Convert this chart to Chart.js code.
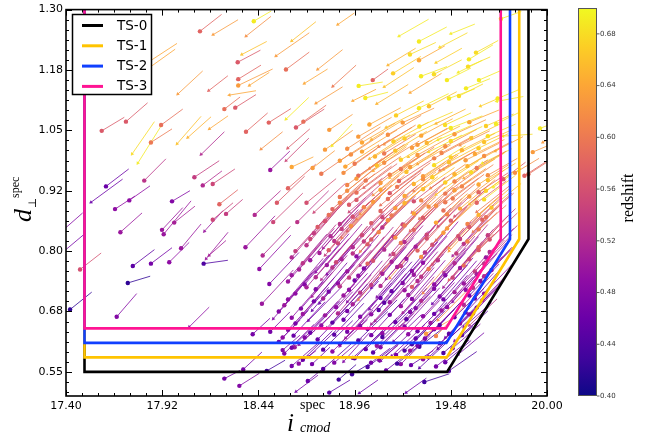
<!DOCTYPE html>
<html>
<head>
<meta charset="utf-8">
<script src="https://cdn.jsdelivr.net/npm/chart.js"></script>
<style>
  html, body { margin: 0; padding: 0; background: #ffffff; }
  #wrap { width: 656px; height: 436px; }
</style>
</head>
<body>
<div id="wrap"><canvas id="chart" width="656" height="436"></canvas></div>
<script>
// ---------------- axes ----------------
const xTickValues = [17.40, 17.92, 18.44, 18.96, 19.48, 20.00];
const xTickLabels = ['17.40', '17.92', '18.44', '18.96', '19.48', '20.00'];
const yTickValues = [0.55, 0.675, 0.80, 0.925, 1.05, 1.175, 1.30];
const yTickLabels = ['0.55', '0.68', '0.80', '0.92', '1.05', '1.18', '1.30'];
const zTickValues = [0.40, 0.44, 0.48, 0.52, 0.56, 0.60, 0.64, 0.68];
const zTickLabels = ['0.40', '0.44', '0.48', '0.52', '0.56', '0.60', '0.64', '0.68'];
const zRange = [0.40, 0.70];

// ---------------- target-selection cuts ----------------
const cutNames = ['TS-0', 'TS-1', 'TS-2', 'TS-3'];
const cutMinI = [17.5, 17.5, 17.5, 17.5];
const cutMaxI = [19.90, 19.85, 19.80, 19.75];
const cutMinD = [0.55, 0.58, 0.61, 0.64];
const cutSlopeZero = [19.86, 19.81, 19.76, 19.71];   // i < zero + 1.6 (d - 0.8)

// ---------------- galaxies: spec position, shift to phot position, redshift ----------------
const specI = [
  18.124,18.195,18.350,18.328,18.535,18.373,18.620,18.415,18.869,18.589,
  18.760,18.331,18.331,18.391,18.688,18.842,19.058,18.982,18.950,19.018,
  18.283,18.315,18.751,18.589,18.496,18.373,18.643,18.683,18.823,18.454,
  18.598,18.838,18.620,18.733,18.504,18.589,17.593,17.724,17.914,17.859,
  17.757,17.788,18.000,18.058,18.175,18.256,18.130,17.823,18.094,18.139,
  18.193,17.616,17.535,17.742,17.973,18.004,18.171,17.800,17.800,17.665,
  17.694,17.368,17.368,17.919,17.928,17.985,18.022,18.148,18.193,18.229,
  18.265,18.157,18.173,17.761,17.859,17.958,18.144,17.734,17.476,17.422,
  17.674,18.066,18.256,18.409,18.504,18.571,18.658,18.730,18.485,18.358,
  18.337,18.707,18.643,18.823,18.874,18.946,18.985,19.049,19.094,18.571,
  18.636,19.265,19.337,19.238,19.184,19.310,19.346,19.962,19.923,19.977,
  19.878,19.733,19.751,19.724,19.762,19.728,19.827,19.764,19.899,18.370,
  18.463,18.445,18.499,18.459,18.520,18.540,18.420,18.600,18.700,18.650,
  18.520,18.780,18.800,18.740,
  18.62,18.79,18.90,19.03,19.13,19.21,19.31,19.40,19.47,
  18.58,18.71,18.84,18.95,19.06,19.16,19.26,19.36,19.44,19.52,
  18.55,18.66,18.76,18.88,18.98,19.08,19.17,19.27,19.34,19.42,19.50,
  18.60,18.72,18.81,18.92,19.03,19.11,19.20,19.30,19.39,19.47,19.55,
  18.62,18.71,18.80,18.90,18.99,19.07,19.15,19.24,19.33,19.41,19.50,19.58,
  18.58,18.67,18.77,18.86,18.95,19.04,19.12,19.21,19.29,19.38,19.46,19.55,19.62,
  18.64,18.73,18.82,18.90,18.99,19.08,19.16,19.25,19.33,19.42,19.50,19.58,19.66,
  18.60,18.69,18.78,18.87,18.96,19.05,19.13,19.22,19.30,19.39,19.47,19.55,19.64,
  18.66,18.75,18.84,18.92,19.01,19.10,19.19,19.27,19.36,19.44,19.53,19.61,19.70,
  18.62,18.72,18.80,18.89,18.97,19.06,19.15,19.24,19.32,19.41,19.49,19.58,19.67,
  18.70,18.79,18.87,18.95,19.03,19.12,19.21,19.29,19.38,19.47,19.55,19.63,
  18.74,18.83,18.92,19.00,19.09,19.17,19.26,19.35,19.44,19.52,19.60,19.68,
  18.80,18.88,18.97,19.05,19.14,19.22,19.31,19.40,19.48,19.57,19.65,
  18.84,18.93,19.01,19.10,19.18,19.27,19.36,19.44,19.53,19.62,19.70,
  18.88,18.97,19.06,19.14,19.23,19.32,19.40,19.49,19.58,19.66,
  18.92,19.01,19.10,19.19,19.28,19.37,19.45,19.54,19.63,19.71,
  18.90,18.98,19.06,19.15,19.24,19.33,19.42,19.50,19.59,19.68,
  18.88,18.96,19.04,19.12,19.21,19.30,19.39,19.47,19.56,19.65,
  18.92,19.00,19.09,19.18,19.27,19.36,19.45,19.54,19.63,19.72,
  18.98,19.05,19.14,19.23,19.32,19.41,19.50,19.59,19.68,
  19.04,19.13,19.22,19.31,19.40,19.48,19.58,19.67,
  18.68,18.85,18.96,19.10,19.19,19.33,19.45,
  18.62,18.79,18.88,19.02,19.10,19.23,19.30,19.41,19.49,
  18.63,18.69,18.85,18.91,19.05,19.11,19.25,19.29,19.40,19.45,19.54,
  18.64,18.78,18.84,18.99,19.05,19.18,19.23,19.37,19.42,19.53,19.58,
  18.55,18.68,18.73,18.87,18.92,19.05,19.09,19.22,19.26,19.39,19.43,19.56,19.60,
  18.60,18.74,18.79,18.92,18.98,19.10,19.15,19.27,19.32,19.44,19.49,19.61,19.65,
  18.70,18.75,18.88,18.93,19.05,19.10,19.23,19.27,19.39,19.44,19.56,19.60,
  18.62,18.75,18.81,18.93,18.98,19.11,19.15,19.28,19.32,19.45,19.49,19.62,19.66,
  18.68,18.81,18.86,18.99,19.03,19.16,19.21,19.33,19.38,19.50,19.55,19.66,
  18.64,18.77,18.82,18.95,18.99,19.12,19.17,19.30,19.34,19.47,19.51,19.63,19.69,
  18.72,18.85,18.89,19.01,19.05,19.18,19.23,19.35,19.40,19.53,19.57,19.69,
  18.76,18.89,18.94,19.06,19.11,19.23,19.28,19.41,19.46,19.58,19.63,
  18.82,18.95,18.99,19.11,19.16,19.28,19.33,19.46,19.50,19.63,19.67,
  18.88,18.93,19.06,19.10,19.23,19.28,19.40,19.45,19.58,19.62,
  18.92,18.97,19.10,19.15,19.28,19.33,19.45,19.50,19.63,19.67,
  18.97,19.02,19.15,19.20,19.33,19.38,19.50,19.55,19.68,
  18.91,19.04,19.08,19.21,19.26,19.39,19.44,19.57,19.62,
  18.94,19.07,19.12,19.25,19.30,19.43,19.48,19.61,19.66,
  19.00,19.12,19.17,19.30,19.35,19.48,19.53,19.66,
  19.308,19.259,19.168,19.319,19.389,19.459,19.573,19.578,19.616,19.632,
  19.308,19.184,19.449,19.562,19.362,19.470,19.524,19.308,
  19.20,19.42,19.12,19.26,19.40,19.52,19.08,19.64,19.14,19.48
];
const specD = [
  1.255,1.248,1.207,1.191,1.204,1.245,1.235,1.276,1.269,1.176,
  1.176,1.156,1.143,1.143,1.147,1.141,1.154,1.142,1.111,1.117,
  1.123,1.097,1.106,1.073,1.066,1.047,1.056,1.068,1.051,1.011,
  1.013,1.018,0.974,0.972,0.968,0.987,1.049,1.068,1.061,1.025,
  1.001,0.982,1.022,1.035,1.053,1.094,1.000,0.946,0.953,0.936,
  0.939,0.934,0.901,0.905,0.903,1.125,1.132,1.180,1.166,0.887,
  0.839,0.838,0.793,0.844,0.835,0.859,0.806,0.841,0.865,0.897,
  0.877,0.784,0.791,0.769,0.774,0.777,0.774,0.734,0.762,0.679,
  0.664,0.643,0.536,0.628,0.633,0.595,0.567,0.566,0.552,0.555,
  0.521,0.531,0.509,0.507,0.534,0.545,0.506,0.569,0.574,0.621,
  0.601,0.564,0.529,0.507,0.585,0.602,0.629,1.054,1.005,1.025,
  0.956,1.116,1.281,1.063,1.038,1.110,0.962,0.949,0.959,0.808,
  0.791,0.763,0.732,0.691,0.860,0.900,0.875,0.930,0.900,0.860,
  0.660,0.960,1.010,0.880,
  .562,.556,.571,.560,.553,.566,.558,.561,.552,
  .588,.581,.592,.579,.590,.583,.594,.580,.589,.586,
  .612,.606,.617,.608,.615,.604,.613,.607,.619,.609,.614,
  .637,.631,.641,.633,.639,.630,.642,.634,.638,.629,.643,
  .662,.656,.667,.658,.664,.655,.668,.659,.665,.657,.663,.669,
  .688,.681,.692,.684,.690,.680,.693,.686,.682,.691,.684,.689,.683,
  .712,.706,.716,.708,.714,.705,.717,.709,.713,.706,.715,.708,.712,
  .737,.731,.741,.733,.739,.730,.742,.734,.738,.731,.740,.733,.738,
  .762,.756,.766,.758,.764,.755,.767,.759,.763,.756,.765,.758,.761,
  .787,.781,.791,.783,.789,.780,.792,.784,.788,.781,.790,.783,.787,
  .812,.806,.816,.808,.814,.805,.817,.809,.813,.806,.815,.808,
  .837,.831,.841,.833,.839,.830,.842,.834,.838,.831,.840,.833,
  .862,.856,.866,.858,.864,.855,.867,.859,.863,.856,.865,
  .887,.881,.891,.883,.889,.880,.892,.884,.888,.881,.890,
  .912,.906,.916,.908,.914,.905,.917,.909,.913,.907,
  .937,.931,.941,.933,.939,.930,.942,.934,.938,.932,
  .962,.956,.966,.958,.964,.955,.967,.959,.963,.957,
  .987,.981,.991,.983,.989,.980,.992,.984,.988,.982,
  1.012,1.006,1.016,1.008,1.014,1.005,1.017,1.009,1.013,1.007,
  1.037,1.031,1.041,1.033,1.039,1.030,1.042,1.034,1.038,
  1.062,1.056,1.066,1.058,1.064,1.055,1.067,1.059,
  .575,.569,.578,.572,.567,.576,.570,
  .600,.596,.603,.597,.601,.594,.604,.598,.599,
  .625,.621,.627,.620,.626,.622,.628,.619,.624,.621,.626,
  .650,.646,.652,.645,.649,.653,.644,.651,.647,.650,.646,
  .675,.670,.677,.671,.676,.669,.678,.672,.674,.670,.677,.673,.671,
  .700,.696,.702,.695,.699,.703,.694,.701,.697,.700,.695,.702,.698,
  .725,.721,.727,.720,.724,.728,.719,.726,.722,.725,.720,.724,
  .750,.746,.752,.745,.749,.753,.744,.751,.747,.750,.745,.752,.748,
  .775,.771,.777,.770,.774,.778,.769,.776,.772,.775,.770,.774,
  .800,.796,.802,.795,.799,.803,.794,.801,.797,.800,.795,.802,.798,
  .825,.821,.827,.820,.824,.828,.819,.826,.822,.825,.820,.824,
  .850,.846,.852,.845,.849,.853,.844,.851,.847,.850,.845,
  .875,.871,.877,.870,.874,.878,.869,.876,.872,.875,.870,
  .900,.896,.902,.895,.899,.903,.894,.901,.897,.900,
  .925,.921,.927,.920,.924,.928,.919,.926,.922,.925,
  .950,.946,.952,.945,.949,.953,.944,.951,.947,
  .975,.971,.977,.970,.974,.978,.969,.976,.972,
  1.000,.996,1.002,.995,.999,1.003,.994,1.001,.997,
  1.025,1.021,1.027,1.020,1.024,1.028,1.019,1.026,
  1.234,1.207,1.168,1.162,1.166,1.154,1.182,1.197,1.211,1.154,
  1.096,1.081,1.061,1.137,1.100,1.116,1.121,1.195,
  1.245,1.222,1.140,1.128,1.190,1.170,1.105,1.100,1.185,1.250
];
const shiftI = [
  .117,.135,.135,.123,.180,.135,.131,.094,.090,.126,
  .135,.123,.186,.108,.126,.126,.083,.130,.126,.123,
  .144,.112,.144,.123,.120,.117,.153,.123,.126,.117,
  .120,.108,.117,.120,.106,.124,.122,.117,.117,.114,
  .121,.126,.130,.126,.101,.085,.126,.117,.134,.104,
  .120,.123,.171,.112,.097,.135,.104,.200,.190,.108,
  .117,.122,.140,.112,.148,.112,.108,.101,.110,.100,
  .090,.119,.092,.117,.114,.108,.131,.121,.114,.117,
  .108,.108,.085,.094,.106,.094,.094,.097,.099,.101,
  .108,.099,.119,.112,.094,.108,.101,.103,.101,.094,
  .110,.120,.135,.110,.115,.120,.140,.100,.080,.060,
  .120,.120,.110,.130,.160,.144,.130,.120,.100,.160,
  .150,.170,.160,.170,.160,.150,.140,.150,.160,.170,
  .160,.150,.150,.170,
  .15,.16,.14,.17,.15,.16,.14,.18,.15,
  .16,.15,.17,.15,.16,.18,.15,.17,.16,.14,
  .16,.17,.15,.18,.16,.17,.15,.18,.16,.17,.15,
  .17,.16,.18,.17,.16,.18,.17,.16,.18,.17,.15,
  .17,.18,.16,.19,.17,.18,.16,.19,.17,.18,.16,.15,
  .18,.17,.19,.17,.18,.19,.17,.18,.17,.19,.18,.16,.15,
  .18,.19,.17,.18,.19,.17,.18,.19,.17,.18,.17,.16,.15,
  .18,.19,.17,.18,.19,.18,.17,.19,.18,.17,.18,.17,.16,
  .19,.18,.19,.17,.18,.19,.17,.18,.19,.17,.18,.16,.15,
  .18,.19,.17,.18,.19,.17,.18,.19,.17,.18,.17,.16,.15,
  .18,.19,.18,.17,.19,.18,.17,.19,.18,.17,.18,.16,
  .18,.19,.18,.17,.19,.18,.17,.19,.18,.17,.16,.15,
  .19,.18,.19,.18,.17,.19,.18,.17,.19,.18,.16,
  .19,.18,.19,.18,.17,.19,.18,.17,.19,.18,.16,
  .19,.18,.19,.18,.17,.19,.18,.17,.19,.17,
  .19,.18,.19,.18,.17,.19,.18,.17,.16,.15,
  .18,.19,.18,.19,.17,.18,.19,.17,.18,.16,
  .18,.19,.18,.19,.17,.18,.19,.17,.18,.16,
  .18,.19,.18,.17,.19,.18,.17,.18,.16,.15,
  .18,.17,.18,.19,.17,.18,.17,.16,.15,
  .17,.18,.17,.18,.16,.17,.16,.15,
  .16,.15,.17,.15,.16,.17,.14,
  .17,.16,.15,.17,.18,.16,.15,.17,.15,
  .17,.18,.16,.17,.18,.16,.17,.18,.16,.15,.14,
  .18,.17,.19,.16,.18,.17,.19,.17,.18,.16,.15,
  .18,.17,.19,.18,.17,.19,.18,.17,.19,.18,.17,.16,.15,
  .19,.18,.17,.19,.18,.17,.19,.18,.17,.18,.17,.16,.15,
  .18,.19,.17,.18,.19,.17,.18,.19,.17,.18,.17,.16,
  .19,.18,.17,.19,.18,.17,.19,.18,.17,.18,.17,.16,.15,
  .18,.19,.17,.18,.19,.17,.18,.19,.17,.18,.16,.15,
  .19,.18,.17,.19,.18,.17,.19,.18,.17,.18,.17,.16,.15,
  .18,.19,.17,.18,.19,.17,.18,.19,.17,.18,.16,.15,
  .19,.18,.17,.19,.18,.17,.19,.18,.17,.17,.15,
  .19,.18,.17,.19,.18,.17,.19,.18,.17,.17,.15,
  .19,.18,.17,.19,.18,.17,.19,.18,.17,.16,
  .18,.19,.17,.18,.19,.17,.18,.17,.16,.15,
  .18,.19,.17,.18,.19,.17,.18,.17,.15,
  .18,.19,.17,.18,.19,.17,.18,.17,.16,
  .18,.19,.17,.18,.19,.17,.18,.16,.15,
  .18,.17,.19,.17,.18,.17,.16,.15,
  .15,.14,.15,.14,.15,.13,.12,.13,.12,.12,
  .16,.15,.14,.13,.15,.14,.13,.14,
  .16,.15,.16,.17,.14,.13,.17,.12,.15,.13
];
const shiftD = [
  .035,.031,.027,.025,.048,.041,.040,.021,.024,.036,
  .041,.029,.034,.027,.030,.044,.023,.008,.024,.012,
  .009,.027,.034,.045,.029,.039,.038,.034,.032,.036,
  .040,.045,.021,.036,.039,.047,.028,.039,.033,.028,
  .067,.077,.057,.043,.027,.025,.047,.045,.034,.030,
  .031,.036,.048,.030,.022,.048,.031,.050,.052,.027,
  .040,.041,.045,.046,.069,.034,.050,.043,.035,.030,
  .030,.055,.031,.034,.033,.041,.007,.014,.034,.036,
  .048,.041,.017,.033,.041,.031,.027,.035,.022,.036,
  .026,.031,.034,.026,.031,.025,.027,.030,.031,.036,
  .035,.030,.017,.030,.040,.036,.030,.015,.013,.012,
  .030,.019,.015,.025,.004,.010,.030,.035,.025,.065,
  .060,.070,.065,.070,.060,.055,.050,.050,.050,.065,
  .070,.040,.040,.060,
  .05,.055,.06,.05,.045,.06,.05,.055,.04,
  .06,.055,.065,.05,.06,.065,.05,.06,.055,.045,
  .065,.06,.06,.07,.06,.065,.055,.07,.06,.06,.05,
  .07,.065,.075,.07,.06,.07,.065,.06,.07,.065,.05,
  .075,.07,.065,.08,.07,.075,.065,.08,.07,.07,.06,.055,
  .08,.075,.08,.07,.08,.085,.075,.08,.07,.08,.075,.065,.06,
  .08,.085,.075,.08,.085,.075,.08,.085,.075,.08,.075,.065,.06,
  .08,.085,.075,.08,.085,.08,.075,.085,.08,.075,.08,.07,.065,
  .085,.08,.085,.075,.08,.085,.075,.08,.085,.075,.08,.065,.06,
  .08,.085,.075,.08,.085,.075,.08,.085,.075,.08,.075,.07,.06,
  .08,.08,.075,.07,.08,.075,.07,.08,.075,.07,.075,.065,
  .075,.08,.07,.07,.075,.07,.065,.075,.07,.065,.06,.055,
  .07,.065,.07,.065,.06,.07,.065,.06,.065,.06,.055,
  .065,.06,.065,.06,.055,.065,.06,.055,.06,.055,.05,
  .06,.055,.06,.055,.05,.055,.05,.05,.055,.05,
  .055,.05,.055,.05,.045,.05,.045,.045,.04,.04,
  .05,.05,.05,.045,.045,.045,.04,.04,.04,.035,
  .045,.05,.045,.045,.04,.04,.04,.035,.035,.03,
  .045,.045,.04,.04,.04,.035,.035,.035,.03,.03,
  .04,.04,.04,.035,.035,.03,.03,.03,.025,
  .035,.035,.03,.03,.03,.025,.025,.025,
  .06,.05,.065,.055,.05,.06,.045,
  .065,.06,.055,.065,.07,.06,.055,.06,.05,
  .07,.075,.065,.07,.075,.06,.07,.07,.065,.055,.05,
  .075,.07,.08,.065,.075,.07,.08,.07,.075,.06,.055,
  .08,.075,.085,.08,.07,.085,.08,.075,.085,.08,.07,.065,.06,
  .085,.08,.075,.085,.08,.075,.085,.08,.075,.08,.075,.07,.06,
  .08,.085,.075,.08,.085,.075,.08,.085,.075,.08,.075,.065,
  .085,.08,.075,.085,.08,.075,.085,.08,.075,.08,.075,.065,.06,
  .08,.085,.075,.08,.085,.075,.08,.085,.075,.08,.065,.06,
  .08,.08,.075,.08,.075,.07,.08,.075,.07,.075,.07,.06,.055,
  .075,.08,.07,.075,.08,.07,.075,.075,.07,.07,.06,.055,
  .07,.065,.065,.07,.065,.06,.07,.065,.06,.06,.05,
  .065,.06,.06,.065,.06,.055,.065,.06,.055,.055,.05,
  .06,.055,.055,.06,.055,.05,.055,.05,.05,.045,
  .055,.055,.05,.05,.055,.045,.05,.045,.04,.04,
  .05,.05,.045,.045,.05,.04,.045,.04,.035,
  .045,.05,.045,.045,.045,.04,.04,.035,.035,
  .045,.045,.04,.04,.04,.035,.035,.03,.03,
  .04,.04,.04,.035,.035,.03,.03,.025,
  .03,.025,.035,.02,.03,.025,.02,.03,.025,.02,
  .03,.03,.025,.02,.03,.02,.025,.03,
  .035,.03,.04,.04,.03,.025,.04,.02,.035,.02
];
const redshift = [
  .58,.63,.66,.57,.63,.62,.66,.69,.64,.59,
  .63,.58,.63,.64,.64,.60,.58,.69,.64,.69,
  .64,.57,.63,.69,.58,.58,.57,.59,.63,.62,
  .57,.69,.64,.63,.50,.55,.57,.57,.59,.60,
  .68,.69,.66,.65,.64,.59,.52,.53,.54,.52,
  .55,.46,.46,.49,.48,.63,.58,.64,.64,.49,
  .50,.48,.47,.50,.50,.51,.50,.50,.55,.58,
  .54,.50,.51,.45,.47,.49,.44,.42,.56,.42,
  .48,.49,.47,.47,.47,.48,.49,.47,.43,.47,
  .48,.46,.47,.45,.43,.43,.46,.47,.48,.49,
  .50,.46,.43,.46,.47,.43,.63,.69,.63,.63,
  .58,.69,.69,.69,.68,.69,.62,.57,.59,.50,
  .52,.49,.48,.50,.55,.57,.52,.58,.56,.53,
  .48,.60,.63,.55,
  .47,.45,.48,.44,.46,.49,.45,.47,.44,
  .48,.46,.49,.47,.45,.48,.50,.46,.44,.47,
  .47,.49,.46,.48,.45,.50,.47,.44,.48,.46,.49,
  .48,.46,.50,.47,.45,.49,.52,.46,.48,.45,.47,
  .49,.47,.50,.46,.48,.51,.47,.45,.49,.62,.47,.48,
  .50,.48,.46,.49,.51,.47,.45,.50,.48,.46,.49,.52,.47,
  .49,.51,.47,.50,.53,.48,.46,.50,.61,.48,.51,.47,.49,
  .50,.48,.52,.49,.47,.54,.50,.48,.52,.49,.58,.50,.48,
  .51,.49,.53,.50,.48,.55,.51,.49,.60,.52,.50,.54,.49,
  .52,.50,.54,.51,.49,.56,.52,.50,.62,.53,.51,.55,.50,
  .53,.51,.55,.52,.57,.53,.60,.51,.56,.63,.53,.58,
  .54,.52,.57,.55,.61,.53,.58,.55,.63,.56,.60,.54,
  .56,.53,.60,.57,.62,.55,.59,.64,.57,.61,.58,
  .58,.55,.61,.58,.63,.57,.62,.59,.64,.60,.66,
  .60,.57,.62,.59,.64,.61,.66,.60,.63,.68,
  .61,.58,.63,.60,.65,.62,.67,.61,.64,.69,
  .62,.59,.64,.61,.66,.63,.60,.65,.68,.62,
  .63,.60,.65,.62,.67,.64,.61,.66,.63,.69,
  .62,.64,.61,.66,.63,.68,.62,.65,.67,.64,
  .63,.65,.62,.67,.64,.69,.63,.66,.68,
  .64,.66,.63,.68,.65,.69,.64,.67,
  .46,.48,.45,.47,.43,.49,.46,
  .47,.45,.49,.46,.48,.44,.47,.45,.48,
  .46,.48,.45,.50,.47,.44,.49,.46,.61,.47,.45,
  .47,.49,.45,.48,.51,.46,.48,.50,.45,.48,.53,
  .48,.50,.46,.52,.47,.49,.45,.51,.48,.46,.50,.47,.49,
  .49,.47,.51,.48,.60,.46,.50,.48,.52,.47,.49,.46,.51,
  .51,.48,.53,.49,.47,.52,.50,.57,.48,.51,.49,.53,
  .50,.52,.48,.54,.49,.51,.62,.50,.53,.48,.55,.51,.52,
  .53,.50,.55,.52,.58,.51,.54,.49,.56,.52,.59,.53,
  .54,.51,.57,.53,.61,.52,.55,.58,.53,.63,.54,.57,.52,
  .55,.53,.60,.54,.57,.62,.52,.56,.59,.54,.61,.56,
  .57,.54,.62,.56,.53,.60,.58,.55,.63,.57,.60,
  .59,.56,.62,.55,.60,.64,.57,.61,.56,.65,.59,
  .61,.57,.63,.59,.65,.56,.62,.60,.66,.58,
  .62,.59,.64,.57,.61,.66,.60,.63,.58,.67,
  .63,.60,.65,.58,.62,.67,.61,.64,.66,
  .64,.61,.66,.60,.63,.68,.62,.65,.60,
  .62,.65,.60,.66,.63,.61,.67,.64,.62,
  .64,.62,.67,.63,.65,.68,.62,.66,
  .69,.68,.67,.69,.68,.69,.68,.69,.68,.69,
  .69,.67,.68,.69,.66,.69,.68,.64,
  .69,.68,.66,.64,.67,.69,.65,.67,.65,.69
];
const marked = [
  1,0,0,1,0,0,0,1,0,1,
  0,1,1,0,0,0,1,1,0,1,
  0,1,0,0,1,1,1,1,1,0,
  0,0,1,1,1,0,1,1,1,1,
  0,0,0,0,0,1,0,1,1,1,
  1,1,0,1,1,0,0,0,0,1,
  1,0,0,1,1,1,1,0,1,1,
  1,0,0,1,1,1,1,1,1,1,
  1,0,1,1,1,1,1,1,1,1,
  1,1,0,1,1,1,0,1,1,1,
  1,1,1,0,1,1,1,1,1,0,
  1,1,1,1,0,0,1,1,1,1,
  1,1,1,1,1,1,1,1,1,1,
  0,1,1,0,
  1,1,0,1,1,1,0,1,1,
  1,0,1,1,1,0,1,1,1,0,
  1,0,1,1,1,1,0,1,1,1,0,
  1,1,0,1,1,1,0,1,1,1,0,
  1,0,1,1,1,0,1,1,1,0,1,1,
  1,1,0,1,1,0,1,1,1,0,1,1,1,
  1,0,1,1,1,0,1,1,0,1,1,1,1,
  1,1,0,1,1,1,0,1,1,1,0,1,1,
  1,0,1,1,1,0,1,1,1,0,1,1,1,
  1,1,0,1,1,1,0,1,1,1,0,1,1,
  1,0,1,1,1,0,1,1,1,0,1,1,
  1,1,0,1,1,1,0,1,1,1,0,1,
  1,1,0,1,1,1,0,1,1,1,1,
  1,0,1,1,1,0,1,1,1,0,1,
  1,1,0,1,1,1,0,1,1,1,
  1,0,1,1,1,0,1,1,1,0,
  1,1,0,1,1,1,0,1,1,1,
  1,1,0,1,1,0,1,1,1,0,
  1,1,0,1,1,0,1,1,1,0,
  1,0,1,1,1,0,1,1,1,
  1,0,1,1,0,1,1,1,
  1,1,1,0,1,1,1,
  1,1,0,1,1,1,1,0,1,
  1,1,1,0,1,1,1,1,1,0,1,
  1,1,1,1,0,1,1,1,1,1,0,
  1,1,0,1,1,1,1,0,1,1,1,1,1,
  1,1,1,0,0,1,1,1,1,1,0,1,1,
  1,1,1,1,0,1,1,1,1,0,1,1,
  1,1,0,1,1,1,0,1,1,1,1,1,1,
  1,1,1,0,1,1,1,1,0,1,1,1,
  1,1,1,1,0,1,1,1,1,0,1,1,1,
  1,1,0,1,1,1,1,1,0,1,1,1,
  1,1,1,0,1,1,1,0,1,1,1,
  1,1,0,1,1,1,1,1,0,1,1,
  1,1,1,0,1,1,1,1,0,1,
  1,1,1,1,0,1,1,1,1,1,
  1,1,0,1,1,1,1,0,1,
  1,0,1,1,1,1,0,1,1,
  1,1,1,0,1,1,1,1,1,
  1,0,1,1,1,1,0,1,
  1,1,1,1,1,1,1,1,1,1,
  1,1,1,1,1,1,1,1,
  0,0,0,0,0,0,0,0,0,0
];

// ---------------- colours ----------------
const PLASMA = ['#0d0887','#41049d','#6a00a8','#8f0da4','#b12a90','#cc4778',
                '#e16462','#f2844b','#fca636','#fcce25','#f0f921'];
function hexRGB(h) { return [parseInt(h.slice(1,3),16), parseInt(h.slice(3,5),16), parseInt(h.slice(5,7),16)]; }
const PLASMA_RGB = PLASMA.map(hexRGB);
function plasmaAt(t) {
  t = Math.max(0, Math.min(1, t));
  const p = t * (PLASMA_RGB.length - 1);
  const k = Math.min(PLASMA_RGB.length - 2, Math.floor(p));
  const f = p - k;
  const a = PLASMA_RGB[k], b = PLASMA_RGB[k + 1];
  return [0,1,2].map(c => Math.round(a[c] + (b[c] - a[c]) * f));
}
function zColor(z, alpha) {
  const c = plasmaAt((z - zRange[0]) / (zRange[1] - zRange[0]));
  return `rgba(${c[0]},${c[1]},${c[2]},${alpha})`;
}
const cutColors = ['#000000', '#ffc400', '#1040ff', '#ff1493'];

// ---------------- datasets ----------------
const N = Math.min(specI.length, specD.length, shiftI.length, shiftD.length, redshift.length, marked.length);
const photI = [], photD = [];
for (let k = 0; k < N; k++) { photI.push(specI[k] + shiftI[k]); photD.push(specD[k] + shiftD[k]); }

const segPoints = [], segColors = [];
for (let k = 0; k < N; k++) {
  const c = zColor(redshift[k], 0.8);
  segPoints.push({x: photI[k], y: photD[k]}, {x: specI[k], y: specD[k]}, {x: NaN, y: NaN});
  segColors.push(c, c, c);
}
const headPoints = [], headColors = [];
for (let k = 0; k < N; k++) {
  headPoints.push({x: specI[k], y: specD[k]});
  headColors.push(zColor(redshift[k], 0.9));
}
const dotPoints = [], dotColors = [];
for (let k = 0; k < N; k++) {
  if (marked[k]) { dotPoints.push({x: specI[k], y: specD[k]}); dotColors.push(zColor(redshift[k], 1)); }
}

const cutTop = 1.40;
const cutSets = cutNames.map((name, k) => {
  const cornerI = cutSlopeZero[k] + 1.6 * (cutMinD[k] - 0.8);
  const bendD = 0.8 + (cutMaxI[k] - cutSlopeZero[k]) / 1.6;
  return {
    label: name, type: 'line', showLine: true, order: 4 - k,
    data: [{x: cutMinI[k], y: cutTop}, {x: cutMinI[k], y: cutMinD[k]}, {x: cornerI, y: cutMinD[k]},
           {x: cutMaxI[k], y: bendD}, {x: cutMaxI[k], y: cutTop}],
    borderColor: cutColors[k], borderWidth: 2.6, pointRadius: 0, tension: 0, fill: false,
    borderJoinStyle: 'miter', clip: 0
  };
});

function headRotation(ctx) {
  const k = ctx.dataIndex;
  const xs = ctx.chart.scales.x, ys = ctx.chart.scales.y;
  if (!xs || !ys || k == null || k >= N) return 0;
  const dx = xs.getPixelForValue(specI[k]) - xs.getPixelForValue(photI[k]);
  const dy = ys.getPixelForValue(specD[k]) - ys.getPixelForValue(photD[k]);
  return Math.atan2(dx, -dy) * 180 / Math.PI;
}

// ---------------- decorations ----------------
const decor = {
  id: 'decor',
  beforeDraw(chart) {
    const c = chart.ctx;
    c.save(); c.fillStyle = '#ffffff'; c.fillRect(0, 0, chart.width, chart.height); c.restore();
  },
  afterDraw(chart) {
    const c = chart.ctx, a = chart.chartArea;
    const xs = chart.scales.x, ys = chart.scales.y;
    c.save();
    // frame
    c.strokeStyle = '#000'; c.lineWidth = 1.6;
    c.strokeRect(a.left, a.top, a.right - a.left, a.bottom - a.top);
    // inward ticks on all four sides
    c.lineWidth = 1;
    c.beginPath();
    const xStep = 0.52 / 6;
    for (let k = 0; k <= 30; k++) {
      const v = 17.4 + k * xStep;
      const px = Math.round(xs.getPixelForValue(v)) + 0.5;
      const len = (k % 6 === 0) ? 6 : 3;
      c.moveTo(px, a.bottom); c.lineTo(px, a.bottom - len);
      c.moveTo(px, a.top); c.lineTo(px, a.top + len);
    }
    const yStep = 0.125 / 6;
    for (let k = -2; k <= 36; k++) {
      const v = 0.55 + k * yStep;
      if (v > 1.3001 || v < 0.5) continue;
      const py = Math.round(ys.getPixelForValue(v)) + 0.5;
      const len = (k % 6 === 0) ? 6 : 3;
      c.moveTo(a.left, py); c.lineTo(a.left + len, py);
      c.moveTo(a.right, py); c.lineTo(a.right - len, py);
    }
    c.stroke();

    // legend
    const lx = 72, ly = 14, lw = 80, lh = 81;
    c.fillStyle = '#ffffff'; c.fillRect(lx, ly, lw, lh);
    c.strokeStyle = '#000'; c.lineWidth = 1.5; c.strokeRect(lx + 0.5, ly + 0.5, lw - 1, lh - 1);
    c.font = '13.5px "DejaVu Sans"'; c.textBaseline = 'middle'; c.textAlign = 'left';
    cutNames.forEach((name, k) => {
      const y = 25.5 + k * 20.3;
      c.strokeStyle = cutColors[k]; c.lineWidth = 3;
      c.beginPath(); c.moveTo(82, y); c.lineTo(103, y); c.stroke();
      c.fillStyle = '#000'; c.fillText(name, 117, y + 0.5);
    });

    // colour bar
    const cbL = 578, cbT = 8, cbW = 19, cbB = 396;
    const g = c.createLinearGradient(0, cbB, 0, cbT);
    PLASMA.forEach((col, k) => g.addColorStop(k / (PLASMA.length - 1), col));
    c.fillStyle = g; c.fillRect(cbL, cbT, cbW, cbB - cbT);
    c.strokeStyle = '#555'; c.lineWidth = 1; c.strokeRect(cbL + 0.5, cbT + 0.5, cbW - 1, cbB - cbT - 1);
    c.font = '7px "DejaVu Sans"'; c.fillStyle = '#333'; c.textBaseline = 'middle'; c.textAlign = 'left';
    c.strokeStyle = '#333'; c.lineWidth = 0.8;
    zTickValues.forEach((z, k) => {
      const py = cbB - (z - zRange[0]) / (zRange[1] - zRange[0]) * (cbB - cbT);
      c.beginPath(); c.moveTo(cbL + cbW, py); c.lineTo(cbL + cbW + 2.5, py); c.stroke();
      c.fillText(zTickLabels[k], cbL + cbW + 3, py);
    });
    c.save();
    c.translate(633, 198); c.rotate(-Math.PI / 2);
    c.font = '16px "Liberation Serif"'; c.fillStyle = '#000'; c.textAlign = 'center'; c.textBaseline = 'alphabetic';
    c.fillText('redshift', 0, 0);
    c.restore();

    // axis titles
    c.fillStyle = '#000'; c.textAlign = 'left'; c.textBaseline = 'alphabetic';
    c.font = 'italic 25px "Liberation Serif"'; c.fillText('i', 287, 431);
    c.font = '14px "Liberation Serif"'; c.fillText('spec', 300, 409);
    c.font = 'italic 14px "Liberation Serif"'; c.fillText('cmod', 300, 432);

    c.save();
    c.translate(31, 222); c.rotate(-Math.PI / 2);
    c.font = 'italic 26px "Liberation Serif"'; c.fillText('d', 0, 0);
    c.font = '11px "DejaVu Serif"'; c.fillText('\u22A5', 14, 5);
    c.font = '12px "Liberation Serif"'; c.fillText('spec', 24, -12);
    c.restore();
    c.restore();
  }
};

new Chart(document.getElementById('chart'), {
  type: 'scatter',
  data: {
    datasets: [
      ...cutSets,
      { label: 'dots', data: dotPoints, order: 5, pointRadius: 2.2, pointHoverRadius: 2.2,
        pointBackgroundColor: dotColors, pointBorderWidth: 0, showLine: false },
      { label: 'heads', data: headPoints, order: 6, pointStyle: 'triangle', pointRadius: 2.2,
        pointHoverRadius: 2.2, pointBackgroundColor: headColors, pointBorderWidth: 0,
        pointRotation: headRotation, showLine: false },
      { label: 'shifts', type: 'line', data: segPoints, order: 7, showLine: true, spanGaps: false,
        pointRadius: 0, borderWidth: 1, tension: 0, borderColor: segColors[0],
        segment: { borderColor: ctx => segColors[ctx.p0DataIndex] } }
    ]
  },
  options: {
    responsive: false, animation: false, devicePixelRatio: 1,
    layout: { padding: { left: 0, right: 109, top: 8, bottom: 0 } },
    plugins: { legend: { display: false }, tooltip: { enabled: false } },
    events: [],
    scales: {
      x: {
        type: 'linear', min: 17.4, max: 20.0,
        grid: { display: false, drawTicks: false }, border: { display: false },
        afterBuildTicks: s => { s.ticks = xTickValues.map(v => ({ value: v })); },
        afterFit: s => { s.height = 40; },
        ticks: { padding: 4, autoSkip: false, maxRotation: 0, minRotation: 0, color: '#000',
                 font: { family: 'DejaVu Sans', size: 11 }, callback: (v, i) => xTickLabels[i] }
      },
      y: {
        type: 'linear', min: 0.5, max: 1.3,
        grid: { display: false, drawTicks: false }, border: { display: false },
        afterBuildTicks: s => { s.ticks = yTickValues.map(v => ({ value: v })); },
        afterFit: s => { s.width = 66; },
        ticks: { padding: 3, autoSkip: false, color: '#000',
                 font: { family: 'DejaVu Sans', size: 11 }, callback: (v, i) => yTickLabels[i] }
      }
    }
  },
  plugins: [decor]
});
</script>
</body>
</html>
